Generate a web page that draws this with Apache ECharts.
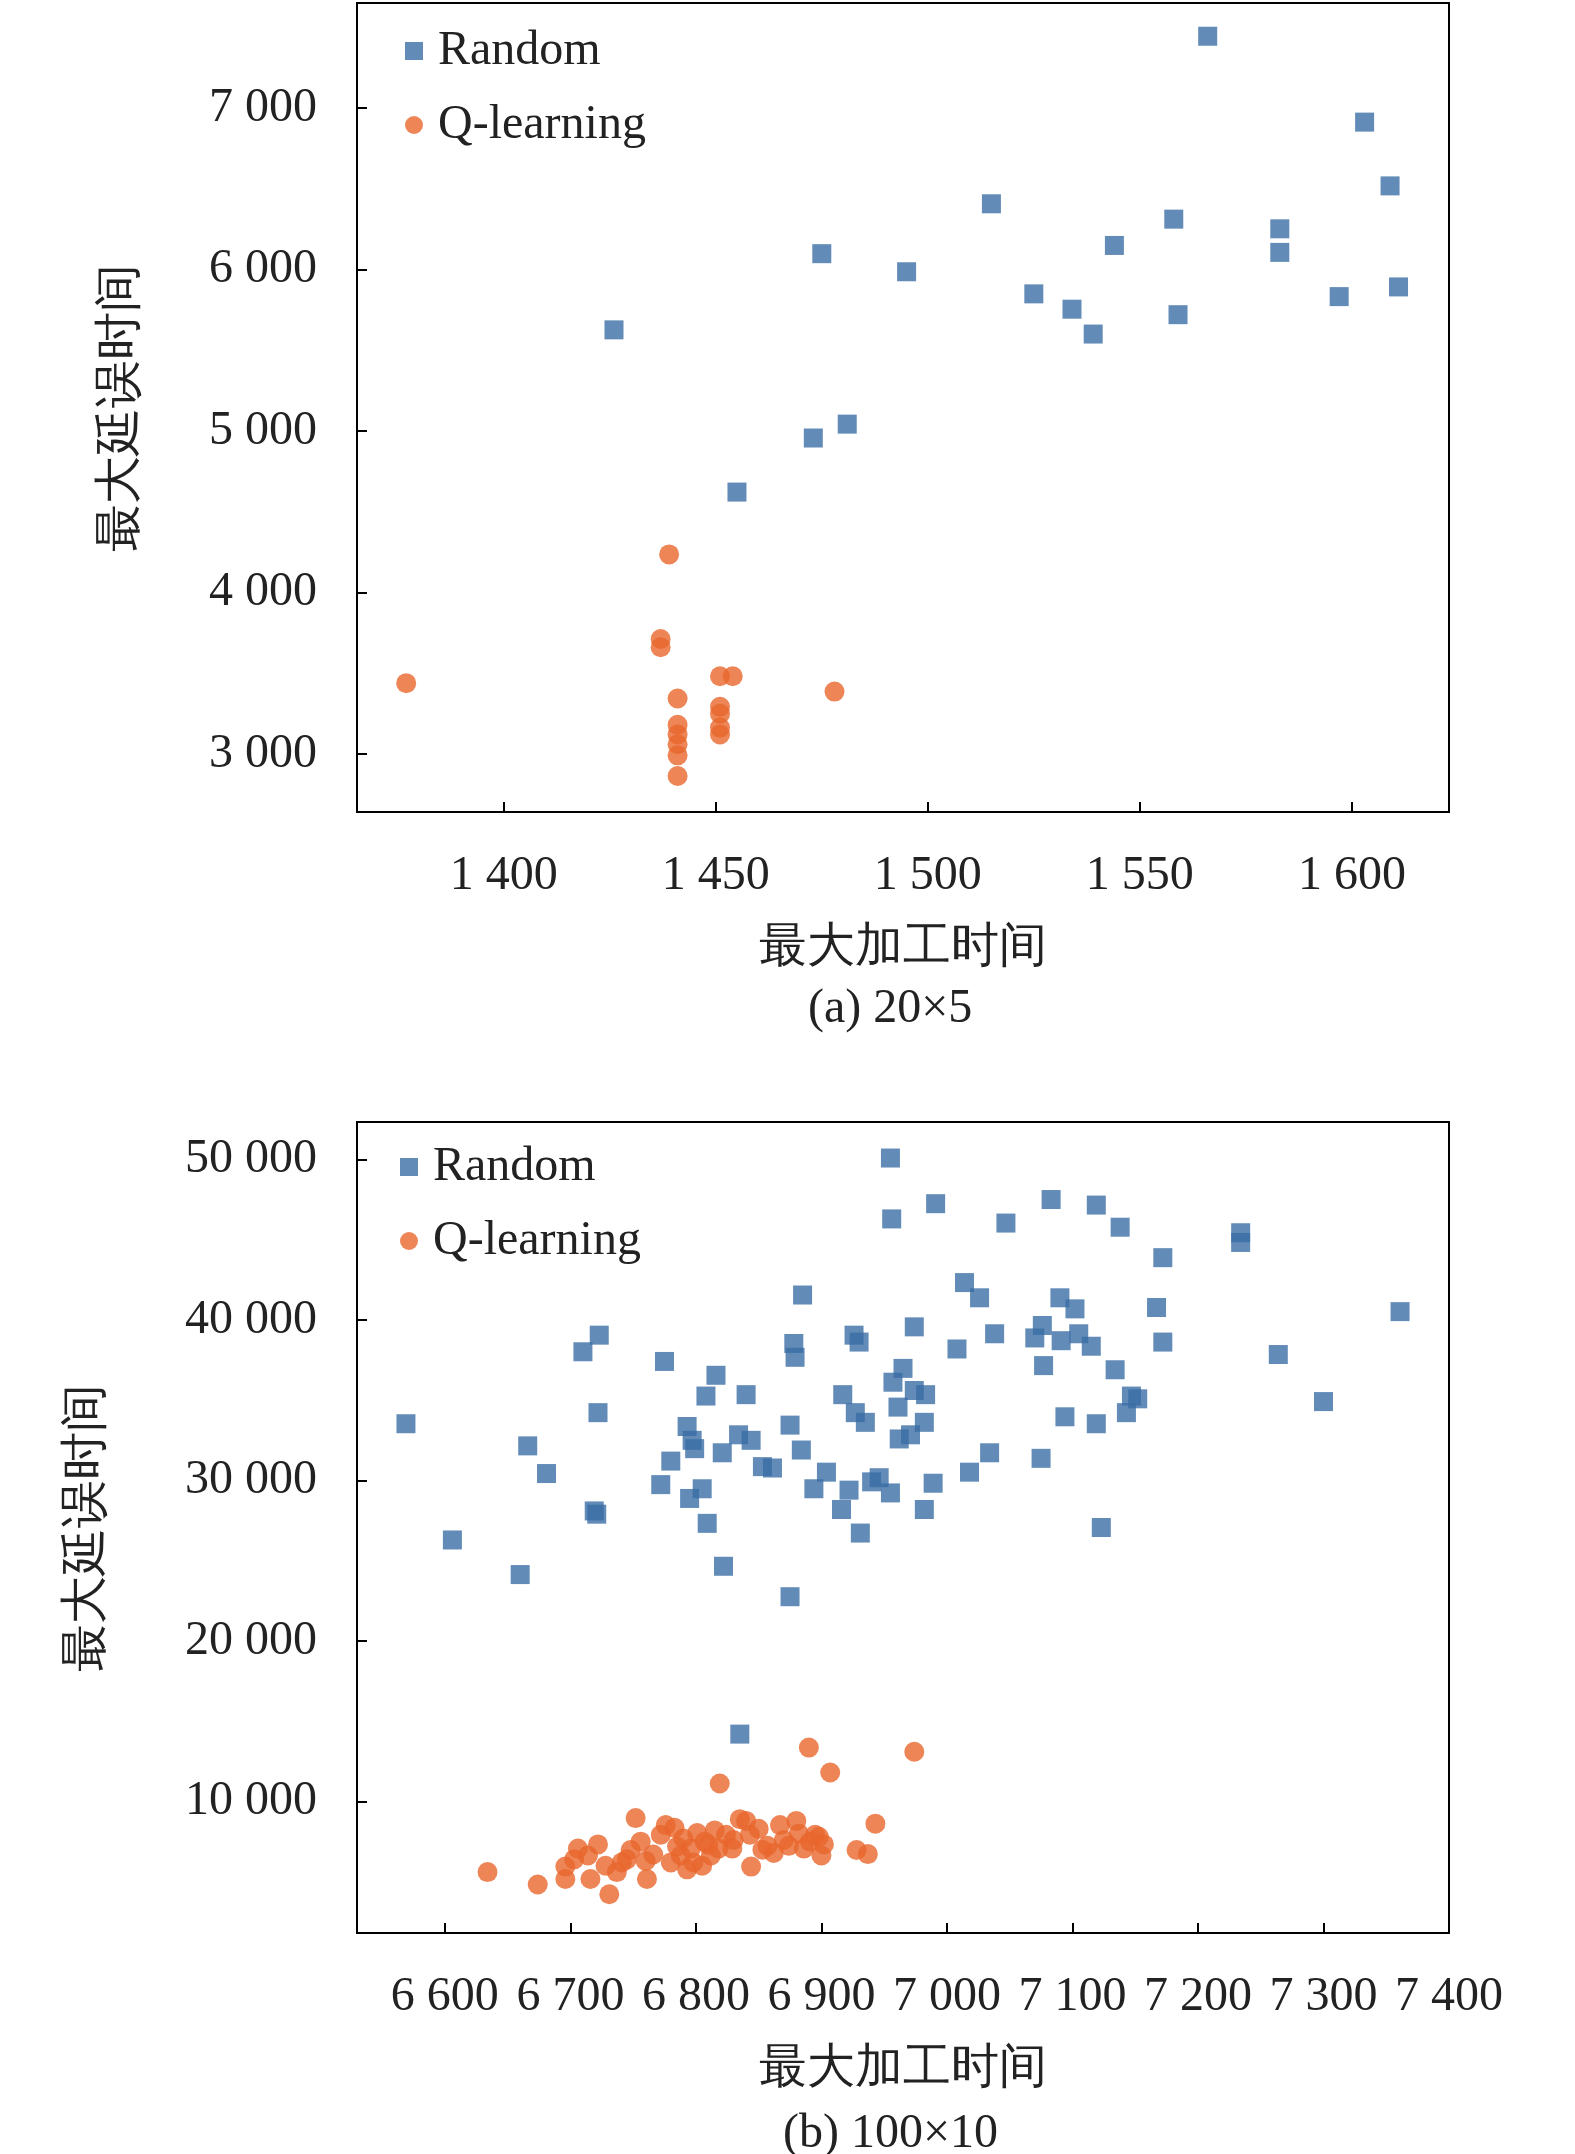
<!DOCTYPE html>
<html><head><meta charset="utf-8">
<script src="https://cdn.jsdelivr.net/npm/echarts@6/dist/echarts.min.js"></script>
<style>html,body{margin:0;background:#fff}#c{width:1575px;height:2154px}</style>
</head><body><div id="c"></div>
<script>
const randomA = [[1566,7446],[1603,6914],[1609,6519],[1515,6408],[1558,6313],[1583,6253],[1583,6107],[1544,6150],[1475,6099],[1495,5987],[1525,5850],[1534,5755],[1559,5721],[1539,5601],[1597,5833],[1611,5893],[1426,5627],[1481,5043],[1473,4957],[1455,4622]];
const qA = [[1377,3438],[1439,4236],[1437,3712],[1437,3661],[1441,3343],[1441,3180],[1441,3120],[1441,3060],[1441,2991],[1441,2863],[1451,3481],[1454,3481],[1451,3292],[1451,3249],[1451,3163],[1451,3120],[1478,3386]];
const randomB = [[6955,50086],[6956,46293],[6991,47241],[7047,46034],[7083,47500],[7119,47155],[7138,45776],[7172,43879],[7234,45431],[7234,44827],[7361,40517],[7264,37845],[7300,34914],[6569,33534],[6606,26293],[6660,24138],[6666,32155],[6681,30431],[6710,38017],[6723,39052],[6722,34224],[6719,28103],[6721,27900],[6775,37414],[6772,29741],[6780,31207],[6793,33362],[6797,32500],[6799,31983],[6795,28879],[6805,29483],[6809,27328],[6808,35259],[6816,36552],[6822,24655],[6821,31724],[6834,32845],[6840,35345],[6844,32500],[6853,30862],[6861,30776],[6875,33448],[6878,38534],[6879,37672],[6885,41552],[6884,31897],[6875,22759],[6894,29483],[6904,30517],[6917,35345],[6916,28190],[6922,29397],[6926,39052],[6930,38621],[6927,34224],[6935,33621],[6931,26724],[6940,29914],[6946,30172],[6955,29224],[6957,36121],[6961,34569],[6962,32586],[6965,36983],[6971,32845],[6974,35603],[6983,35345],[6982,33621],[6974,39569],[6989,29828],[6982,28190],[7008,38190],[7014,42327],[7026,41379],[7018,30517],[7034,31724],[7038,39138],[7070,38879],[7076,39655],[7077,37155],[7075,31379],[7090,41379],[7102,40690],[7091,38707],[7105,39138],[7094,33966],[7115,38362],[7119,33534],[7123,27069],[7134,36897],[7143,34224],[7147,35259],[7152,35086],[7167,40776],[7172,38621],[6835,14200]];
const qB = [[6634,5603],[6674,4828],[6696,5948],[6696,5172],[6706,7069],[6714,6638],[6722,7328],[6716,5172],[6731,4224],[6737,5603],[6741,6207],[6748,6983],[6756,7500],[6752,8966],[6761,5172],[6772,7931],[6776,8534],[6783,8362],[6780,6207],[6788,6638],[6793,5776],[6796,7069],[6801,8034],[6807,7500],[6812,6638],[6818,7069],[6819,11121],[6824,7931],[6829,7069],[6840,8793],[6843,7931],[6844,5948],[6857,7241],[6867,8534],[6874,7241],[6880,8793],[6886,7069],[6891,7500],[6895,7931],[6900,6638],[6902,7328],[6890,13362],[6907,11810],[6928,6983],[6937,6724],[6943,8621],[6974,13103],[6703,6400],[6728,6000],[6745,6400],[6766,6700],[6785,7200],[6798,6200],[6810,7300],[6830,7600],[6850,8300],[6862,6800],[6870,7600],[6882,8000],[6898,7800],[6790,7700],[6760,6300],[6815,8200],[6835,8900],[6853,7000],[6805,6000]];
const ticksXA = [1400,1450,1500,1550,1600];
const ticksYA = [3000,4000,5000,6000,7000];
const ticksXB = [6600,6700,6800,6900,7000,7100,7200,7300,7400];
const ticksYB = [10000,20000,30000,40000,50000];
const fmt = v => String(v).replace(/\B(?=(\d{3})+(?!\d))/g, ' ');
const F = 'Liberation Serif';
const BLUE = '#3b6ea5', ORANGE = '#e8672d';
const base = (gi, min, max, ticks, name, gap, margin) => ({gridIndex: gi, type:'value', min, max,
  name, nameLocation:'middle', nameGap: gap,
  nameTextStyle:{fontFamily:F, fontSize:48, color:'#222'},
  axisLine:{lineStyle:{color:'#000', width:2}},
  axisTick:{inside:true, length:10, customValues:ticks, lineStyle:{color:'#000', width:2}},
  axisLabel:{fontFamily:F, fontSize:48, color:'#222', margin, formatter:fmt, customValues:ticks, showMinLabel:true, showMaxLabel:true},
  splitLine:{show:false}});
const ch = echarts.init(document.getElementById('c'));
ch.setOption({
  animation:false,
  grid:[{left:357, right:126, top:3, height:809, show:true, borderColor:'#000', borderWidth:2},
        {left:357, right:126, top:1122, height:811, show:true, borderColor:'#000', borderWidth:2}],
  xAxis:[base(0,1365.4,1622.9,ticksXA,'最大加工时间',112,40), base(1,6530,7400,ticksXB,'最大加工时间',112,40)],
  yAxis:[base(0,2640,7652,ticksYA,'最大延误时间',212,40), base(1,1810,52330,ticksYB,'最大延误时间',246,40)],
  legend:[{data:['Random','Q-learning'], left:400, top:22, orient:'vertical', itemGap:26, itemWidth:18, itemHeight:18,
    textStyle:{fontFamily:F, fontSize:48, color:'#222', padding:[0,0,0,10]}},
    {data:['Random2','Q-learning2'], left:395, top:1138, orient:'vertical', itemGap:26, itemWidth:18, itemHeight:18,
    textStyle:{fontFamily:F, fontSize:48, color:'#222', padding:[0,0,0,10]}, formatter: n => n.replace('2','')}],
  graphic:[{type:'text', left:808, top:985, style:{text:'(a) 20×5', font:'48px "Liberation Serif"', fill:'#222'}},
           {type:'text', left:783, top:2110, style:{text:'(b) 100×10', font:'48px "Liberation Serif"', fill:'#222'}}],
  series:[
    {name:'Random', type:'scatter', xAxisIndex:0, yAxisIndex:0, symbol:'rect', symbolSize:19, itemStyle:{color:BLUE}, data:randomA},
    {name:'Q-learning', type:'scatter', xAxisIndex:0, yAxisIndex:0, symbol:'circle', symbolSize:20, itemStyle:{color:ORANGE}, data:qA},
    {name:'Random2', type:'scatter', xAxisIndex:1, yAxisIndex:1, symbol:'rect', symbolSize:19, itemStyle:{color:BLUE}, data:randomB},
    {name:'Q-learning2', type:'scatter', xAxisIndex:1, yAxisIndex:1, symbol:'circle', symbolSize:20, itemStyle:{color:ORANGE}, data:qB}
  ]
});
</script></body></html>
